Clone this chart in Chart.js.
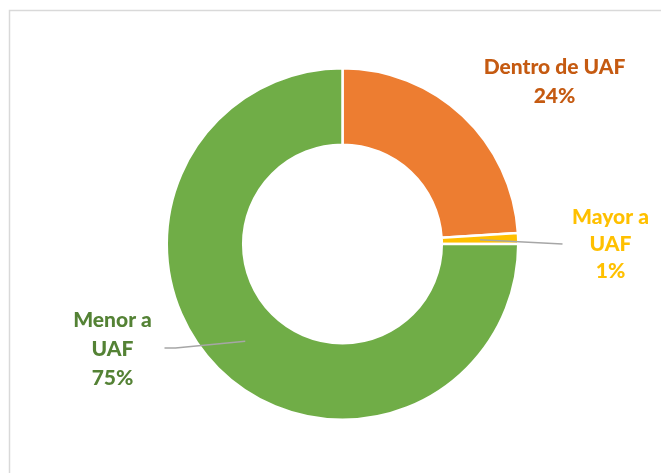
<!DOCTYPE html>
<html>
<head>
<meta charset="utf-8">
<script src="https://cdn.jsdelivr.net/npm/chart.js@4.4.0/dist/chart.umd.min.js"></script>
<style>
  html, body { margin: 0; padding: 0; background: #fff; }
  #wrap { width: 661px; height: 473px; position: relative; }
</style>
</head>
<body>
<div id="wrap"><canvas id="chartUAF" width="661" height="473"></canvas></div>
<script>
const categorias = ['Dentro de UAF', 'Mayor a UAF', 'Menor a UAF'];
const porcentajes = [24, 1, 75];
const colores = ['#ED7D31', '#FFC000', '#70AD47'];
const coloresTexto = ['#C55A11', '#FFC000', '#548235'];
const lineasEtiqueta = [['Dentro de UAF'], ['Mayor a', 'UAF'], ['Menor a', 'UAF']];

// where each label sits, relative to the doughnut centre
const posEtiquetas = [
  { dx: 212, dy: -177, lh: 29, linea: false },
  { dx: 268, dy: -27, lh: 27, linea: true, fin: [220, 0] },
  { dx: -230, dy: 76, lh: 29, linea: true, fin: [-178, 104], codo: [-167, 104] }
];

const marco = {
  id: 'marco',
  beforeDraw(chart) {
    const c = chart.ctx;
    c.save();
    c.strokeStyle = '#D9D9D9';
    c.lineWidth = 1.5;
    c.strokeRect(9.5, 10.5, 800, 600);
    c.restore();
  }
};

const etiquetas = {
  id: 'etiquetas',
  afterDatasetsDraw(chart) {
    const c = chart.ctx;
    const meta = chart.getDatasetMeta(0);
    const cx = (chart.chartArea.left + chart.chartArea.right) / 2;
    const cy = (chart.chartArea.top + chart.chartArea.bottom) / 2;
    c.save();
    meta.data.forEach((arc, i) => {
      const p = posEtiquetas[i];
      if (p.linea) {
        const ini = arc.getCenterPoint();
        c.strokeStyle = '#A6A6A6';
        c.lineWidth = 1.5;
        c.beginPath();
        c.moveTo(ini.x, ini.y);
        if (p.codo) {
          c.lineTo(cx + p.codo[0], cy + p.codo[1]);
        }
        c.lineTo(cx + p.fin[0], cy + p.fin[1]);
        c.stroke();
      }
      const lineas = lineasEtiqueta[i].concat([porcentajes[i] + '%']);
      c.fillStyle = coloresTexto[i];
      c.font = '900 21px Lato';
      c.textAlign = 'center';
      c.textBaseline = 'middle';
      lineas.forEach((t, k) => {
        c.fillText(t, cx + p.dx, cy + p.dy + k * p.lh);
      });
    });
    c.restore();
  }
};

new Chart(document.getElementById('chartUAF').getContext('2d'), {
  type: 'doughnut',
  data: {
    labels: categorias,
    datasets: [{
      data: porcentajes,
      backgroundColor: colores,
      borderColor: '#ffffff',
      borderWidth: 2.5
    }]
  },
  options: {
    responsive: false,
    animation: false,
    cutout: '56.5%',
    layout: { padding: { top: 67, bottom: 52, left: 165, right: 141 } },
    plugins: {
      legend: { display: false },
      tooltip: { enabled: false }
    }
  },
  plugins: [marco, etiquetas]
});
</script>
</body>
</html>
